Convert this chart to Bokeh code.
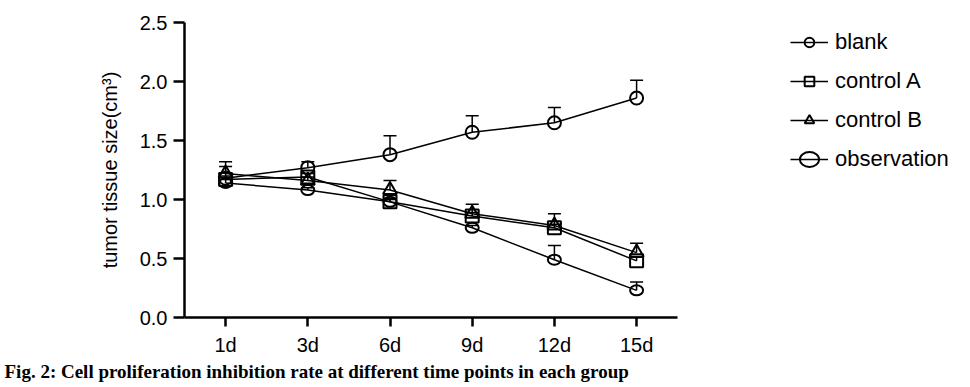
from bokeh.plotting import figure
from bokeh.models import (ColumnDataSource, Whisker, TeeHead, Legend, LegendItem,
                          FixedTicker, Range1d, Title)
from bokeh.embed import file_html
from bokeh.resources import INLINE

days = ["1d", "3d", "6d", "9d", "12d", "15d"]
blank = [1.18, 1.27, 1.38, 1.57, 1.65, 1.86]
blank_err = [0.10, 0.05, 0.16, 0.14, 0.13, 0.15]
control_a = [1.17, 1.19, 0.98, 0.86, 0.76, 0.48]
control_a_err = [0.03, 0.03, 0.03, 0.03, 0.03, 0.03]
control_b = [1.22, 1.16, 1.08, 0.88, 0.78, 0.55]
control_b_err = [0.10, 0.03, 0.08, 0.08, 0.10, 0.08]
observation = [1.14, 1.08, 0.98, 0.76, 0.49, 0.23]
observation_err = [0.03, 0.02, 0.02, 0.02, 0.12, 0.07]
y_ticks = [0.0, 0.5, 1.0, 1.5, 2.0, 2.5]

FONT = "Liberation Sans"
xs = list(range(len(days)))

W, H = 966, 385
LEFT, TOP, BOTTOM = 184, 22, 317
unit_px = 82.2
x_end = -0.5 + (W - LEFT) / unit_px

p = figure(width=W, height=H, output_backend="svg", toolbar_location=None,
           x_range=Range1d(-0.5, x_end), y_range=Range1d(0, 2.5),
           min_border_left=LEFT, min_border_right=0, min_border_top=TOP,
           min_border_bottom=H - BOTTOM)
p.outline_line_color = None
p.xgrid.visible = False
p.ygrid.visible = False

# axes
p.xaxis.ticker = FixedTicker(ticks=xs)
p.xaxis.major_label_overrides = {i: d for i, d in enumerate(days)}
p.xaxis.bounds = (-0.5, len(days) - 0.5)
p.yaxis.ticker = FixedTicker(ticks=y_ticks)
p.yaxis.major_label_overrides = {t: f"{t:.1f}" for t in y_ticks}
for ax in (p.xaxis, p.yaxis):
    ax.axis_line_width = 2.5
    ax.axis_line_color = "black"
    ax.major_tick_line_width = 2.5
    ax.major_tick_line_color = "black"
    ax.major_tick_in = 0
    ax.minor_tick_line_color = None
    ax.major_label_text_font = FONT
    ax.major_label_text_font_size = "20px"
    ax.major_label_text_color = "black"
p.xaxis.major_tick_out = 9
p.yaxis.major_tick_out = 11
p.xaxis.major_label_standoff = 7
p.yaxis.major_label_standoff = 6
p.yaxis.axis_label = "tumor tissue size(cm³)"
p.yaxis.axis_label_text_font = FONT
p.yaxis.axis_label_text_font_style = "normal"
p.yaxis.axis_label_text_font_size = "20px"
p.yaxis.axis_label_text_color = "black"
p.yaxis.axis_label_standoff = 16

series = [
    ("blank", blank, blank_err, "circle"),
    ("control A", control_a, control_a_err, "square"),
    ("control B", control_b, control_b_err, "triangle"),
    ("observation", observation, observation_err, "ellipse"),
]

items = []
for name, vals, errs, marker in series:
    src = ColumnDataSource(dict(x=xs, y=vals, upper=[v + e for v, e in zip(vals, errs)]))
    w = Whisker(source=src, base="x", lower="y", upper="upper",
                line_color="black", line_width=1.5,
                upper_head=TeeHead(size=13, line_color="black", line_width=1.5),
                lower_head=None)
    p.add_layout(w)
    r_line = p.line("x", "y", source=src, line_color="black", line_width=1.5)
    if marker == "ellipse":
        r_mark = p.ellipse("x", "y", width=13, height=10, width_units="screen",
                           height_units="screen", source=src, fill_color=None,
                           line_color="black", line_width=2)
    else:
        size = 13 if marker != "triangle" else 14
        r_mark = p.scatter("x", "y", source=src, marker=marker, size=size,
                           fill_color=None, line_color="black", line_width=2)
    items.append(LegendItem(label=name, renderers=[r_line, r_mark]))

legend = Legend(items=items, location=(606, 145), border_line_color=None,
                background_fill_color=None, background_fill_alpha=0,
                padding=0, margin=0,
                glyph_width=38, glyph_height=24, label_height=24, spacing=13,
                label_standoff=7, label_text_font=FONT, label_text_font_size="22px",
                label_text_color="black")
p.add_layout(legend, "center")

caption = Title(text="Fig. 2: Cell proliferation inhibition rate at different time points in each group",
                align="left", offset=-180, standoff=0,
                text_font="Liberation Serif", text_font_style="bold",
                text_font_size="19px", text_color="black")
p.add_layout(caption, "below")

open("out.html", "w").write(file_html(p, INLINE))
